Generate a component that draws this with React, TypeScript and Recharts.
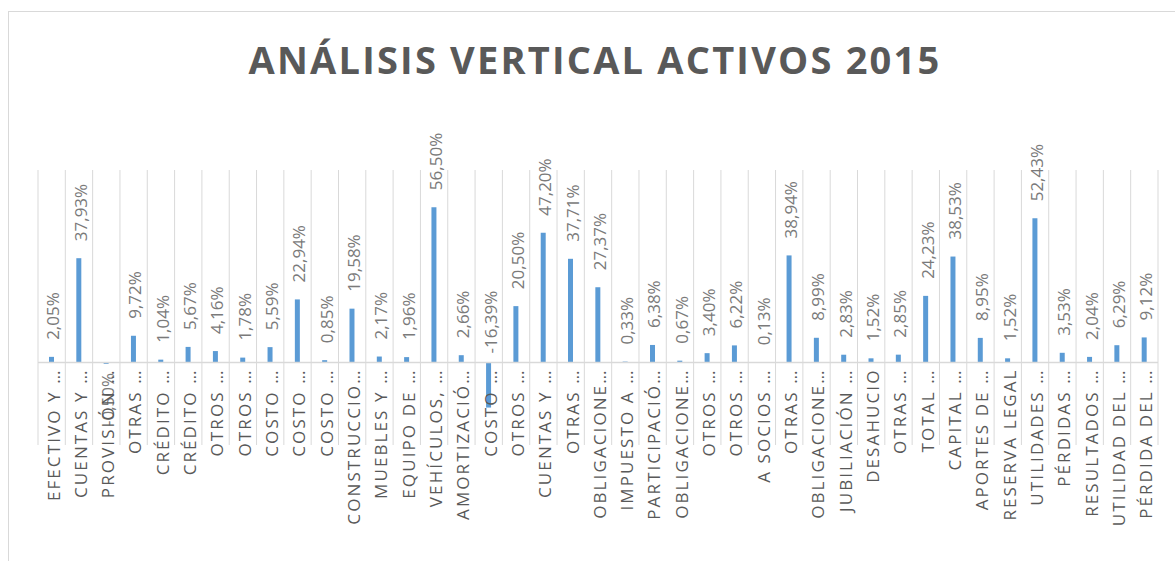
import React from 'react';
import { BarChart, Bar, XAxis, YAxis, CartesianGrid, ReferenceLine, LabelList } from 'recharts';

const categories: string[] = [
  'EFECTIVO Y …', 'CUENTAS Y …', 'PROVISIÓN …', 'OTRAS …', 'CRÉDITO …', 'CRÉDITO …',
  'OTROS …', 'OTROS …', 'COSTO …', 'COSTO …', 'COSTO …', 'CONSTRUCCIO…',
  'MUEBLES Y …', 'EQUIPO DE …', 'VEHÍCULOS, …', 'AMORTIZACIÓ…', 'COSTO …', 'OTROS …',
  'CUENTAS Y …', 'OTRAS …', 'OBLIGACIONE…', 'IMPUESTO A …', 'PARTICIPACIÓ…', 'OBLIGACIONE…',
  'OTROS …', 'OTROS …', 'A SOCIOS …', 'OTRAS …', 'OBLIGACIONE…', 'JUBILIACIÓN …',
  'DESAHUCIO', 'OTRAS …', 'TOTAL …', 'CAPITAL …', 'APORTES DE …', 'RESERVA LEGAL',
  'UTILIDADES …', 'PÉRDIDAS …', 'RESULTADOS …', 'UTILIDAD DEL …', 'PÉRDIDA DEL …',
];

const values: number[] = [
  2.05, 37.93, -0.5, 9.72, 1.04, 5.67,
  4.16, 1.78, 5.59, 22.94, 0.85, 19.58,
  2.17, 1.96, 56.5, 2.66, -16.39, 20.5,
  47.2, 37.71, 27.37, 0.33, 6.38, 0.67,
  3.4, 6.22, 0.13, 38.94, 8.99, 2.83,
  1.52, 2.85, 24.23, 38.53, 8.95, 1.52,
  52.43, 3.53, 2.04, 6.29, 9.12,
];

const yDomain: [number, number] = [-30, 70];
const title = 'ANÁLISIS VERTICAL ACTIVOS 2015';

const data = categories.map((name, i) => ({ name, value: values[i] }));

const FONT = '"Open Sans", sans-serif';

const fmt = (v: number) => v.toFixed(2).replace('.', ',') + '%';

const DataLabel = (props: any) => {
  const { x, y, width, height, value } = props;
  const v = Number(value);
  const cx = x + width / 2 + 1.5;
  const top = Math.min(y, y + height);
  const bottom = Math.max(y, y + height);
  const base = v >= 0 ? y + height : (height < 0 ? y + height : y);
  let ay: number;
  let anchor: 'start' | 'end' = 'start';
  if (v >= 0) {
    ay = top - 17;
  } else if (v > -5) {
    ay = bottom + 9;
    anchor = 'end';
  } else {
    ay = base - 9;
  }
  return (
    <text
      x={cx}
      y={ay}
      transform={`rotate(-90 ${cx} ${ay})`}
      textAnchor={anchor}
      dominantBaseline="central"
      fontFamily={FONT}
      fontSize={17}
      fill="#7a7a7a"
    >
      {fmt(v)}
    </text>
  );
};

const CatLabel = (props: any) => {
  const { x, y, width, height, value, index } = props;
  const v = values[index];
  const cx = x + width / 2 + 1.5;
  const base = v >= 0 ? y + height : (height < 0 ? y + height : y);
  const ay = base + 6;
  return (
    <text
      x={cx}
      y={ay}
      transform={`rotate(-90 ${cx} ${ay})`}
      textAnchor="end"
      dominantBaseline="central"
      fontFamily={FONT}
      fontSize={17}
      letterSpacing={2.1}
      fill="#595959"
    >
      {value}
    </text>
  );
};

const gridGen = (args: any) => {
  const { offset } = args;
  const n = categories.length;
  const band = offset.width / n;
  const out: number[] = [];
  for (let i = 0; i <= n; i++) out.push(offset.left + i * band);
  return out;
};

export default function App() {
  return (
    <div style={{ position: 'fixed', left: 0, top: 0, width: 1175, height: 561, overflow: 'hidden', background: '#fff' }}>
      <div
        style={{
          position: 'absolute', left: 8, top: 11, width: 1200, height: 600,
          border: '1px solid #d9d9d9', boxSizing: 'border-box',
        }}
      />
      <svg style={{ position: 'absolute', left: 0, top: 0 }} width={1175} height={110}>
        <text
          x={595}
          y={74}
          textAnchor="middle"
          fontFamily={FONT}
          fontWeight={700}
          fontSize={38}
          letterSpacing={2.2}
          fill="#595959"
        >
          {title}
        </text>
      </svg>
      <div style={{ position: 'absolute', left: 0, top: 0 }}>
        <BarChart
          width={1175}
          height={561}
          data={data}
          margin={{ top: 170, right: 17, bottom: 116, left: 38 }}
        >
          <CartesianGrid horizontal={false} stroke="#d9d9d9" verticalCoordinatesGenerator={gridGen} />
          <XAxis dataKey="name" hide />
          <YAxis hide domain={yDomain} type="number" />
          <ReferenceLine y={0} stroke="#d9d9d9" strokeWidth={1.5} />
          <Bar dataKey="value" fill="#5B9BD5" barSize={5} isAnimationActive={false}>
            <LabelList dataKey="value" content={DataLabel} />
            <LabelList dataKey="name" content={CatLabel} />
          </Bar>
        </BarChart>
      </div>
    </div>
  );
}
